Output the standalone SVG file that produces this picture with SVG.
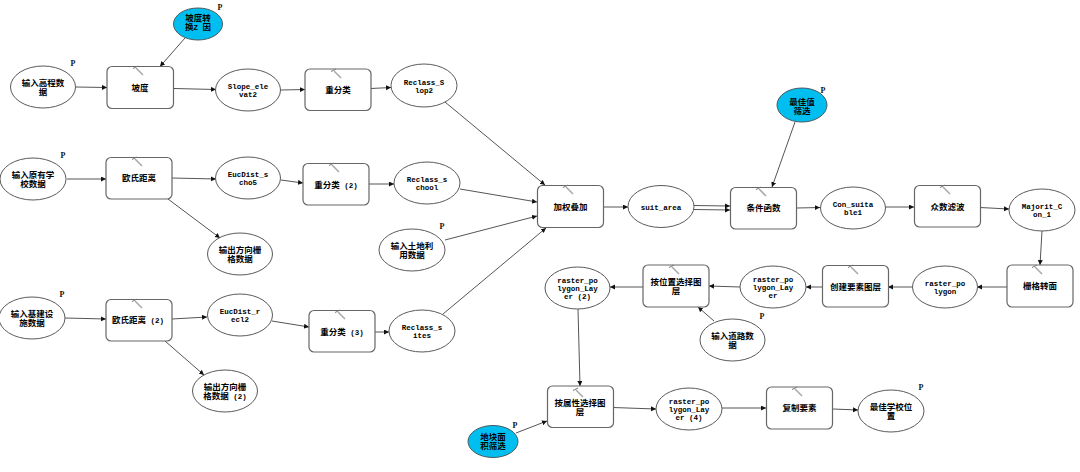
<svg xmlns="http://www.w3.org/2000/svg" width="1080" height="472" viewBox="0 0 1080 472">
<style>
.e{fill:#fff;stroke:#5a5a5a;stroke-width:1}
.b{fill:#00bff0;stroke:#4a5a60;stroke-width:1}
.r{fill:#fff;stroke:#666;stroke-width:1.2}
.c{font:bold 8.5px "Noto Sans CJK SC","Liberation Mono",monospace;fill:#000;text-anchor:middle}
.l{font:bold 7.5px "Liberation Mono","Noto Sans CJK SC",monospace;fill:#000;text-anchor:middle}
.p{font:bold 8px "Liberation Serif",serif;fill:#111;text-anchor:middle}
#conn line{stroke:#555;stroke-width:1;marker-end:url(#a)}
.h{stroke:#aaa;stroke-width:1.6;fill:none}
.h2{stroke:#777;stroke-width:1;fill:none}
</style>
<defs>
<marker id="a" markerUnits="userSpaceOnUse" markerWidth="6" markerHeight="6" refX="5" refY="2.5" orient="auto"><path d="M0 0L5 2.5L0 5z" fill="#111"/></marker>
<g id="ham"><path class="h" d="M-2 3L5 10"/><path class="h2" d="M-5 3.5L0 1"/></g>
</defs>
<rect width="1080" height="472" fill="#fff"/>
<g id="conn">
<line x1="76" y1="87" x2="107" y2="87.5"/>
<line x1="185" y1="38" x2="160" y2="66.5"/>
<line x1="174" y1="88.5" x2="216" y2="89.5"/>
<line x1="281" y1="90" x2="305" y2="89.5"/>
<line x1="371" y1="88.5" x2="391" y2="87.5"/>
<line x1="445" y1="102" x2="545" y2="185"/>
<line x1="369" y1="184" x2="394" y2="184"/>
<line x1="460" y1="189" x2="537" y2="202"/>
<line x1="445" y1="240" x2="537" y2="216"/>
<line x1="443" y1="314" x2="546" y2="228"/>
<line x1="604" y1="207" x2="628" y2="207"/>
<line x1="694" y1="205.5" x2="730" y2="206"/>
<line x1="694" y1="209.5" x2="730" y2="210"/>
<line x1="795" y1="122" x2="772" y2="187"/>
<line x1="797" y1="208" x2="820" y2="207.5"/>
<line x1="885" y1="207" x2="914" y2="207"/>
<line x1="980" y1="207.5" x2="1009" y2="209"/>
<line x1="1042" y1="231" x2="1040" y2="265"/>
<line x1="1007" y1="287" x2="977" y2="287"/>
<line x1="912" y1="287" x2="888" y2="287"/>
<line x1="822" y1="287" x2="806" y2="287"/>
<line x1="740" y1="287" x2="709" y2="286"/>
<line x1="714" y1="321" x2="698" y2="307"/>
<line x1="643" y1="287" x2="610" y2="287"/>
<line x1="578" y1="309" x2="580" y2="386"/>
<line x1="516" y1="433" x2="547" y2="421"/>
<line x1="613" y1="407.5" x2="656" y2="409"/>
<line x1="722" y1="408" x2="766" y2="408"/>
<line x1="833" y1="409" x2="858" y2="410"/>
<line x1="67" y1="179" x2="106" y2="179"/>
<line x1="172" y1="178" x2="216" y2="179"/>
<line x1="281" y1="180" x2="303" y2="183"/>
<line x1="168" y1="199" x2="220" y2="238"/>
<line x1="65" y1="318" x2="106" y2="319"/>
<line x1="172" y1="319" x2="207" y2="317"/>
<line x1="272" y1="321" x2="309" y2="327"/>
<line x1="375" y1="332" x2="389" y2="332"/>
<line x1="165" y1="341" x2="204" y2="375"/>
</g>
<g id="n1"><ellipse class="e" cx="43" cy="87" rx="32.5" ry="21"/><text class="c" x="43" y="86">输入高程数</text><text class="c" x="43" y="95">据</text><text class="p" x="73" y="66">P</text></g>
<g id="n2"><ellipse class="b" cx="198" cy="24" rx="24.5" ry="16"/><text class="c" x="198" y="21">坡度转</text><text class="c" x="198" y="30">换<tspan class="l">Z </tspan>因</text><text class="p" x="220" y="10">P</text></g>
<g id="n3"><rect class="r" x="107" y="66.5" width="66.5" height="42" rx="5"/><use href="#ham" x="138" y="65"/><text class="c" x="140" y="91">坡度</text></g>
<g id="n4"><ellipse class="e" cx="248" cy="90" rx="32.5" ry="21"/><text class="l" x="248" y="89">Slope_ele</text><text class="l" x="248" y="97">vat2</text></g>
<g id="n5"><rect class="r" x="305" y="69" width="66" height="41.5" rx="5"/><use href="#ham" x="336" y="68"/><text class="c" x="338" y="93">重分类</text></g>
<g id="n6"><ellipse class="e" cx="424" cy="85.5" rx="33" ry="21.5"/><text class="l" x="424" y="84.5">Reclass_S</text><text class="l" x="424" y="93">lop2</text></g>
<g id="n7"><ellipse class="e" cx="33" cy="179" rx="33" ry="21"/><text class="c" x="33" y="178">输入原有学</text><text class="c" x="33" y="187">校数据</text><text class="p" x="63" y="158">P</text></g>
<g id="n8"><rect class="r" x="106" y="157.5" width="66" height="41.5" rx="5"/><use href="#ham" x="137" y="156"/><text class="c" x="139" y="181">欧氏距离</text></g>
<g id="n9"><ellipse class="e" cx="248" cy="178" rx="32.5" ry="21"/><text class="l" x="248" y="177">EucDist_s</text><text class="l" x="248" y="185">cho5</text></g>
<g id="n10"><ellipse class="e" cx="240" cy="254" rx="32.5" ry="21"/><text class="c" x="240" y="253">输出方向栅</text><text class="c" x="240" y="261.5">格数据</text></g>
<g id="n11"><rect class="r" x="303" y="163.5" width="66" height="41.5" rx="5"/><use href="#ham" x="334" y="162"/><text class="c" x="336" y="188">重分类<tspan class="l"> (2)</tspan></text></g>
<g id="n12"><ellipse class="e" cx="427" cy="183" rx="33" ry="21"/><text class="l" x="427" y="182">Reclass_s</text><text class="l" x="427" y="190">chool</text></g>
<g id="n13"><ellipse class="e" cx="412" cy="250" rx="33" ry="21"/><text class="c" x="412" y="249">输入土地利</text><text class="c" x="412" y="258">用数据</text><text class="p" x="442" y="229">P</text></g>
<g id="n14"><ellipse class="e" cx="32" cy="318" rx="33" ry="21"/><text class="c" x="32" y="317">输入基建设</text><text class="c" x="32" y="326">施数据</text><text class="p" x="62" y="297">P</text></g>
<g id="n15"><rect class="r" x="106" y="299.5" width="66" height="41.5" rx="5"/><use href="#ham" x="137" y="298"/><text class="c" x="138" y="323">欧氏距离<tspan class="l"> (2)</tspan></text></g>
<g id="n16"><ellipse class="e" cx="240" cy="315" rx="32.5" ry="21"/><text class="l" x="240" y="314">EucDist_r</text><text class="l" x="240" y="322">ecl2</text></g>
<g id="n17"><ellipse class="e" cx="225" cy="391" rx="32.5" ry="21"/><text class="c" x="225" y="390">输出方向栅</text><text class="c" x="225" y="399">格数据<tspan class="l"> (2)</tspan></text></g>
<g id="n18"><rect class="r" x="309" y="310.5" width="66" height="41.5" rx="5"/><use href="#ham" x="340" y="309"/><text class="c" x="342" y="335">重分类<tspan class="l"> (3)</tspan></text></g>
<g id="n19"><ellipse class="e" cx="422" cy="331" rx="33" ry="21"/><text class="l" x="422" y="330">Reclass_s</text><text class="l" x="422" y="338">ites</text></g>
<g id="n20"><rect class="r" x="537.5" y="185.5" width="66" height="42" rx="5"/><use href="#ham" x="568" y="184"/><text class="c" x="570.5" y="210">加权叠加</text></g>
<g id="n21"><ellipse class="e" cx="661" cy="206.5" rx="33" ry="21"/><text class="l" x="661" y="209.5">suit_area</text></g>
<g id="n22"><ellipse class="b" cx="802" cy="105" rx="25" ry="17"/><text class="c" x="802" y="105">最佳值</text><text class="c" x="802" y="114">筛选</text><text class="p" x="823" y="93">P</text></g>
<g id="n23"><rect class="r" x="730.5" y="187.5" width="66" height="41.5" rx="5"/><use href="#ham" x="761" y="186"/><text class="c" x="763.5" y="211">条件函数</text></g>
<g id="n24"><ellipse class="e" cx="853" cy="208" rx="32.5" ry="21"/><text class="l" x="853" y="207">Con_suita</text><text class="l" x="853" y="215">ble1</text></g>
<g id="n25"><rect class="r" x="914.5" y="185.5" width="66" height="41.5" rx="5"/><use href="#ham" x="945" y="184"/><text class="c" x="947.5" y="210">众数滤波</text></g>
<g id="n26"><ellipse class="e" cx="1042" cy="210" rx="33" ry="21"/><text class="l" x="1042" y="209">Majorit_C</text><text class="l" x="1042" y="217">on_1</text></g>
<g id="n27"><rect class="r" x="1007" y="265" width="66" height="42" rx="5"/><use href="#ham" x="1037" y="264"/><text class="c" x="1040" y="289">栅格转面</text></g>
<g id="n28"><ellipse class="e" cx="945" cy="287" rx="32.5" ry="21"/><text class="l" x="945" y="286">raster_po</text><text class="l" x="945" y="294">lygon</text></g>
<g id="n29"><rect class="r" x="822.5" y="265.5" width="66" height="41.5" rx="5"/><use href="#ham" x="853" y="264"/><text class="c" x="855.5" y="290">创建要素图层</text></g>
<g id="n30"><ellipse class="e" cx="773" cy="287" rx="33" ry="21"/><text class="l" x="773" y="281.5">raster_po</text><text class="l" x="773" y="290">lygon_Lay</text><text class="l" x="773" y="298">er</text></g>
<g id="n31"><rect class="r" x="643" y="265" width="66" height="42" rx="5"/><use href="#ham" x="674" y="264"/><text class="c" x="676" y="285">按位置选择图</text><text class="c" x="676" y="294">层</text></g>
<g id="n32"><ellipse class="e" cx="577.5" cy="288" rx="32.5" ry="21"/><text class="l" x="577.5" y="282.5">raster_po</text><text class="l" x="577.5" y="291">lygon_Lay</text><text class="l" x="577.5" y="299">er (2)</text></g>
<g id="n33"><ellipse class="e" cx="732.5" cy="340" rx="32.5" ry="21"/><text class="c" x="732.5" y="339">输入道路数</text><text class="c" x="732.5" y="347.5">据</text><text class="p" x="762" y="319">P</text></g>
<g id="n34"><rect class="r" x="547.5" y="386" width="66" height="41.5" rx="5"/><use href="#ham" x="578" y="387"/><text class="c" x="580" y="406">按属性选择图</text><text class="c" x="580" y="415">层</text></g>
<g id="n35"><ellipse class="b" cx="493" cy="441.5" rx="25" ry="16"/><text class="c" x="493" y="440">地块面</text><text class="c" x="493" y="449">积筛选</text><text class="p" x="515" y="428">P</text></g>
<g id="n36"><ellipse class="e" cx="689" cy="409" rx="33" ry="21"/><text class="l" x="689" y="404">raster_po</text><text class="l" x="689" y="412">lygon_Lay</text><text class="l" x="689" y="420">er (4)</text></g>
<g id="n37"><rect class="r" x="766.5" y="387" width="66" height="42" rx="5"/><use href="#ham" x="797" y="386"/><text class="c" x="799.5" y="411">复制要素</text></g>
<g id="n38"><ellipse class="e" cx="891" cy="411" rx="33" ry="21"/><text class="c" x="891" y="410">最佳学校位</text><text class="c" x="891" y="419">置</text><text class="p" x="921" y="390">P</text></g>
</svg>
